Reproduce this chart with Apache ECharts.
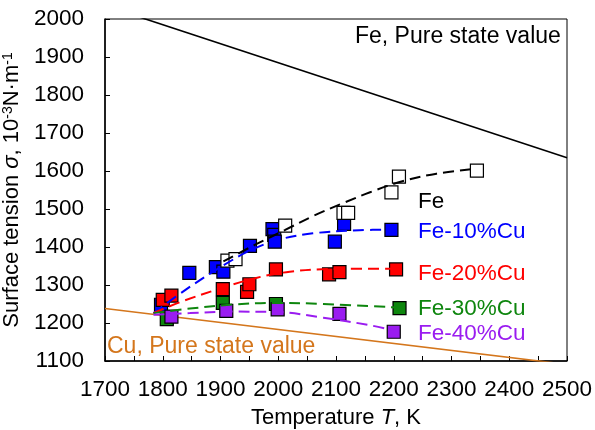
<!DOCTYPE html>
<html>
<head>
<meta charset="utf-8">
<script src="https://cdn.jsdelivr.net/npm/echarts@6/dist/echarts.min.js"></script>
<style>
  html, body { margin: 0; padding: 0; background: #fff; }
  #chart { width: 595px; height: 430px; }
</style>
</head>
<body>
<div id="chart"></div>
<script>
// axis ticks
var xTicks = [1700, 2500, 100];
var yTicks = [1100, 2000, 100];

// pure state reference lines (T, sigma)
var fePure = [[1700, 2035], [2500, 1635]];
var cuPure = [[1700, 1238], [2500, 1091]];

// measured points
var fePts = [[1912, 1364], [1926, 1368], [2012, 1456], [2113, 1490], [2121, 1490], [2196, 1544], [2209, 1585], [2344, 1601]];
var cu10Pts = [[1797, 1248], [1846, 1332], [1892, 1347], [1905, 1335], [1951, 1403], [1990, 1447], [1993, 1432], [1994, 1414], [2098, 1414], [2114, 1461], [2196, 1445]];
var cu20Pts = [[1800, 1261], [1815, 1272], [1904, 1289], [1946, 1282], [1950, 1302], [1996, 1341], [2088, 1328], [2106, 1334], [2204, 1341]];
var cu30Pts = [[1807, 1210], [1904, 1253], [1996, 1250], [2210, 1239]];
var cu40Pts = [[1815, 1217], [1910, 1232], [1999, 1236], [2106, 1224], [2200, 1177]];

// fitted curves
var feFit = [[1905, 1362], [1960, 1406], [2012, 1445], [2061, 1482], [2113, 1516], [2159, 1544], [2215, 1573], [2274, 1593], [2344, 1606]];
var cu10Fit = [[1784, 1226], [1840, 1288], [1900, 1347], [1950, 1390], [2000, 1419], [2060, 1436], [2140, 1444], [2200, 1446]];
var cu20Fit = [[1784, 1226], [1830, 1255], [1900, 1291], [1960, 1318], [2020, 1335], [2090, 1342], [2205, 1343]];
var cu30Fit = [[1784, 1226], [1847, 1238], [1916, 1248], [1997, 1253], [2078, 1250], [2205, 1241]];
var cu40Fit = [[1784, 1222], [1847, 1226], [1916, 1230], [1997, 1229], [2078, 1214], [2159, 1194], [2199, 1181]];

var font = "'Liberation Sans', Arial, sans-serif";
var chart = echarts.init(document.getElementById("chart"));

function pts(data, color) {
  return {
    type: "scatter",
    data: data,
    symbol: "rect",
    symbolSize: 13,
    z: color === "#fff" ? 4 : 3,
    itemStyle: { color: color, opacity: 1, borderColor: "#000", borderWidth: 1.2 }
  };
}
function fit(data, color) {
  return {
    type: "line",
    data: data,
    smooth: 0.35,
    showSymbol: false,
    z: 5,
    lineStyle: { color: color, width: 2, type: [11, 6] }
  };
}
function pure(data, color) {
  return {
    type: "line",
    data: data,
    showSymbol: false,
    z: 2,
    lineStyle: { color: color, width: 1.6 }
  };
}

function txt(text, left, top, color, size) {
  return { type: "text", left: left, top: top, style: { text: text, fill: color, fontSize: size || 22.5, fontFamily: font } };
}

chart.setOption({
  animation: false,
  textStyle: { fontFamily: font },
  grid: {
    left: 105, right: 28, top: 19, bottom: 69,
    containLabel: false, outerBoundsMode: "none",
    show: true, borderColor: "#000", borderWidth: 1
  },
  xAxis: {
    type: "value",
    min: xTicks[0], max: xTicks[1], interval: xTicks[2],
    name: "Temperature {i|T}, K",
    nameLocation: "middle",
    nameGap: 46,
    nameTextStyle: { fontSize: 22, color: "#000", rich: { i: { fontSize: 22, fontStyle: "italic" } } },
    axisLine: { lineStyle: { color: "#000", width: 1.5 } },
    axisTick: { inside: true, length: 5, lineStyle: { color: "#000" } },
    minorTick: { show: true, splitNumber: 2, length: 5, lineStyle: { color: "#000" } },
    axisLabel: { fontSize: 22.5, color: "#000", margin: 17, formatter: function (v) { return String(v); } },
    splitLine: { show: false }
  },
  yAxis: {
    type: "value",
    min: yTicks[0], max: yTicks[1], interval: yTicks[2],
    name: "Surface tension {i|σ}, 10{sup|-3}N·m{sup|-1}",
    nameLocation: "middle",
    nameRotate: 90,
    nameGap: 60,
    nameTextStyle: {
      fontSize: 22, color: "#000",
      rich: { i: { fontSize: 22, fontStyle: "italic" }, sup: { fontSize: 14, verticalAlign: "top", lineHeight: 14 } }
    },
    axisLine: { lineStyle: { color: "#000", width: 1.5 } },
    axisTick: { inside: true, length: 5, lineStyle: { color: "#000" } },
    axisLabel: { fontSize: 22.5, color: "#000", margin: 21, formatter: function (v) { return String(v); } },
    splitLine: { show: false }
  },
  graphic: [
    txt("Fe, Pure state value", 355, 25, "#000", 23),
    txt("Cu, Pure state value", 107, 335, "#d4761c", 23),
    txt("Fe", 418, 190, "#000"),
    txt("Fe-10%Cu", 418, 220, "#0000ff"),
    txt("Fe-20%Cu", 418, 262, "#ff0000"),
    txt("Fe-30%Cu", 418, 297, "#0e860e"),
    txt("Fe-40%Cu", 418, 322, "#9a1cf0")
  ],
  series: [
    pure(fePure, "#000"),
    pure(cuPure, "#d4761c"),
    pts(cu10Pts, "#0000ff"),
    pts(cu20Pts, "#ff0000"),
    pts(cu30Pts, "#0e860e"),
    pts(cu40Pts, "#9a1cf0"),
    pts(fePts, "#fff"),
    fit(feFit, "#000"),
    fit(cu10Fit, "#0000ff"),
    fit(cu20Fit, "#ff0000"),
    fit(cu30Fit, "#0e860e"),
    fit(cu40Fit, "#9a1cf0")
  ]
});
</script>
</body>
</html>
